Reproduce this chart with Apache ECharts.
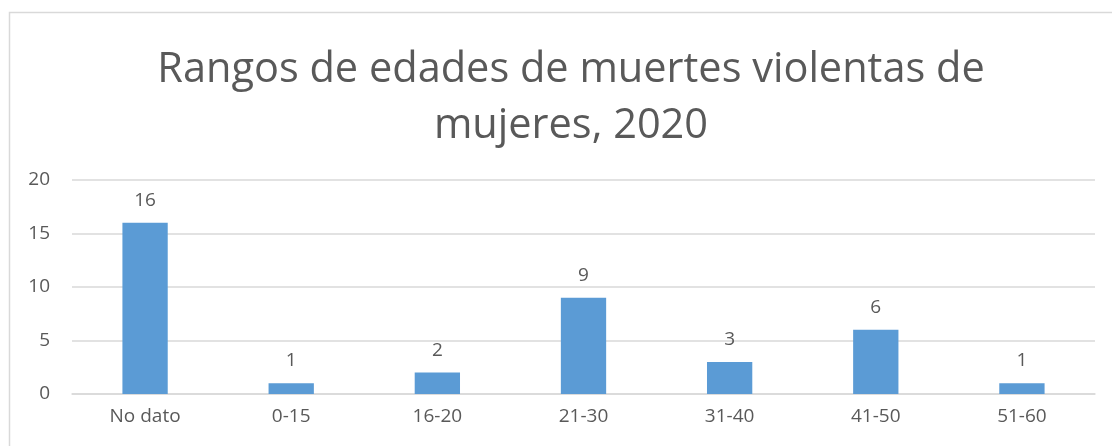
<!DOCTYPE html>
<html>
<head>
<meta charset="utf-8">
<script src="https://cdn.jsdelivr.net/npm/echarts@6/dist/echarts.min.js"></script>
<style>
  html, body { margin: 0; padding: 0; background: #fff; }
  #chart { width: 1112px; height: 446px; }
</style>
</head>
<body>
<div id="chart"></div>
<script>
const TITLE = "Rangos de edades de muertes violentas de\nmujeres, 2020";
const categories = ["No dato", "0-15", "16-20", "21-30", "31-40", "41-50", "51-60"];
const values = [16, 1, 2, 9, 3, 6, 1];

const BAR_COLOR = "#5b9bd5";
const TEXT_COLOR = "#595959";
const FONT = "'Open Sans', 'Liberation Sans', sans-serif";

const chart = echarts.init(document.getElementById("chart"));

const option = {
  animation: false,
  textStyle: { fontFamily: FONT },
  title: {
    text: TITLE,
    left: 566,
    top: 37,
    textAlign: "center",
    textStyle: {
      fontFamily: FONT,
      fontSize: 41.5,
      fontWeight: "normal",
      color: TEXT_COLOR,
      lineHeight: 56,
    },
  },
  graphic: [
    {
      type: "rect",
      left: 7,
      top: 10,
      shape: { width: 1200, height: 500 },
      style: { fill: "none", stroke: "#d9d9d9", lineWidth: 1.5 },
      silent: true,
    },
  ],
  grid: { left: 72, right: 17, top: 180, bottom: 52, containLabel: false },
  xAxis: {
    type: "category",
    data: categories,
    axisLine: { show: true, lineStyle: { color: "#d9d9d9", width: 1.5 } },
    axisTick: { show: false },
    axisLabel: { color: TEXT_COLOR, fontSize: 19, fontFamily: FONT, margin: 13 },
  },
  yAxis: {
    type: "value",
    min: 0,
    max: 20,
    interval: 5,
    axisLine: { show: false },
    axisTick: { show: false },
    splitLine: { lineStyle: { color: "#d9d9d9", width: 1.5 } },
    axisLabel: { color: TEXT_COLOR, fontSize: 19, fontFamily: FONT, margin: 22 },
  },
  series: [
    {
      type: "bar",
      data: values,
      barWidth: "31%",
      itemStyle: { color: BAR_COLOR },
      label: {
        show: true,
        position: "top",
        distance: 13,
        color: TEXT_COLOR,
        fontSize: 19,
        fontFamily: FONT,
      },
    },
  ],
};

chart.setOption(option);
</script>
</body>
</html>
